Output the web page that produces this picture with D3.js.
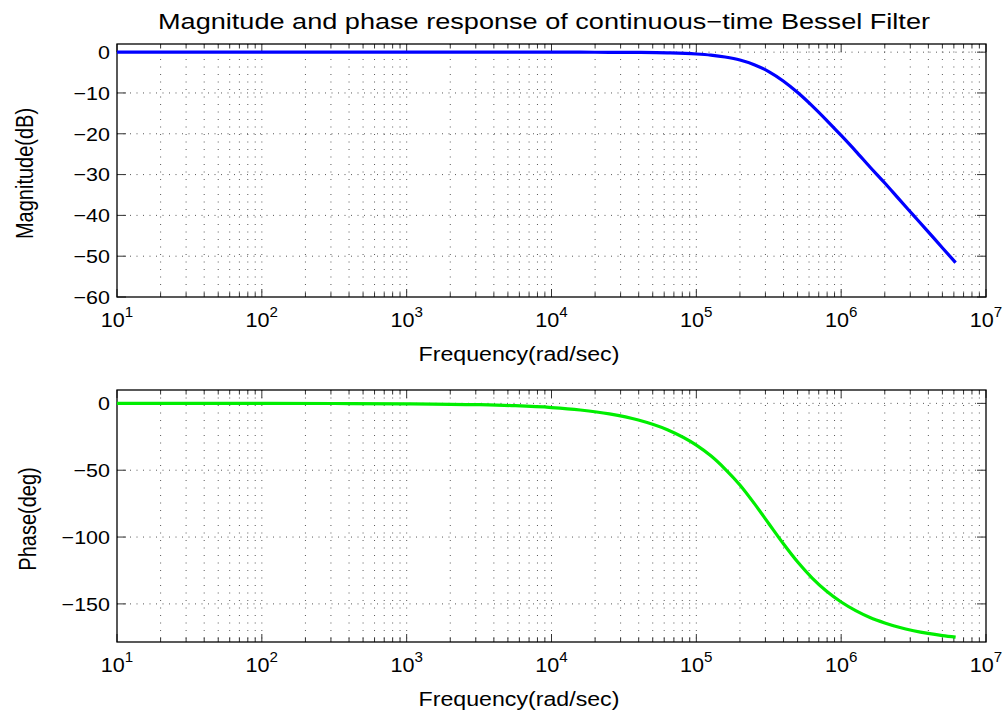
<!DOCTYPE html>
<html>
<head>
<meta charset="utf-8">
<script src="https://cdn.jsdelivr.net/npm/d3@7"></script>
<style>
  html, body { margin: 0; padding: 0; background: #fff; }
  text { font-family: "Liberation Sans", Arial, Helvetica, sans-serif; fill: #000; }
</style>
</head>
<body>
<svg id="chart" width="1005" height="715"></svg>
<script>
// ---- data ----
const freq = [10, 31.6, 100, 316, 1000, 3160, 5620, 10000, 15800, 25100, 39800, 63100,
  100000, 126000, 158000, 200000, 251000, 316000, 398000, 501000, 631000, 794000,
  1000000, 1260000, 1580000, 2000000, 2510000, 3160000, 3980000, 5010000, 6170000];
const magnitudeDb = [0, 0, 0, 0, 0, 0, 0, 0, -0.01, -0.03, -0.07, -0.18,
  -0.45, -0.73, -1.18, -1.91, -3.06, -4.75, -7.05, -9.89,
  -13.15, -16.69, -20.41, -24.24, -28.14, -32.07, -36.03, -40.0, -43.98, -47.98, -51.58];
const phaseDeg = [0, -0.01, -0.03, -0.1, -0.31, -0.99, -1.76, -3.13, -4.96, -7.86, -12.46, -19.74,
  -31.25, -39.23, -49.1, -61.02, -74.83, -89.84, -104.86, -118.71,
  -130.67, -140.57, -148.6, -155.03, -160.16, -164.23, -167.48, -170.05, -172.1, -173.72, -174.9];
const xExponents = [1, 2, 3, 4, 5, 6, 7];
const magTicks = [0, -10, -20, -30, -40, -50, -60];
const phaseTicks = [0, -50, -100, -150];
const titleText = "Magnitude and phase response of continuous\u2212time Bessel Filter";
const xLabelText = "Frequency(rad/sec)";
const magLabelText = "Magnitude(dB)";
const phaseLabelText = "Phase(deg)";

// ---- layout ----
const svg = d3.select("#chart");
const X0 = 117, X1 = 986;
const SX = 1.13; // horizontal glyph stretch seen in the reference

const x = d3.scaleLog().domain([10, 1e7]).range([X0, X1]);

function stretchText(sel, s) {
  sel.each(function () {
    const len = this.getComputedTextLength();
    d3.select(this).attr("textLength", len * s).attr("lengthAdjust", "spacingAndGlyphs");
  });
}

function minus(v) { return v < 0 ? "\u2212" + Math.abs(v) : String(v); }

function panel(cfg) {
  const y = d3.scaleLinear().domain(cfg.domain).range([cfg.y1, cfg.y0]);
  const g = svg.append("g");

  // grid: vertical (major + minor)
  const vVals = [];
  for (let e = 1; e < 7; e++) for (let m = 1; m <= 9; m++) vVals.push(m * Math.pow(10, e));
  const inner = vVals.filter(v => v > 10 && v < 1e7);
  g.append("g").selectAll("line").data(inner).join("line")
    .attr("x1", d => x(d)).attr("x2", d => x(d))
    .attr("y1", cfg.y0).attr("y2", cfg.y1)
    .attr("stroke", "#222").attr("stroke-width", 1)
    .attr("stroke-dasharray", "1,6.5").attr("opacity", 0.75);
  // grid: horizontal (major)
  g.append("g").selectAll("line").data(cfg.ticks.filter(t => y(t) > cfg.y0 + 1 && y(t) < cfg.y1 - 1)).join("line")
    .attr("x1", X0).attr("x2", X1)
    .attr("y1", d => y(d)).attr("y2", d => y(d))
    .attr("stroke", "#222").attr("stroke-width", 1)
    .attr("stroke-dasharray", "1,5.5").attr("opacity", 0.75);

  // x ticks (inside, top and bottom)
  const tickG = g.append("g").attr("stroke", "#333").attr("stroke-width", 1);
  vVals.concat([1e7]).forEach(v => {
    const major = Math.abs(Math.log10(v) - Math.round(Math.log10(v))) < 1e-9;
    const L = major ? 8 : 4.5;
    tickG.append("line").attr("x1", x(v)).attr("x2", x(v)).attr("y1", cfg.y1).attr("y2", cfg.y1 - L);
    tickG.append("line").attr("x1", x(v)).attr("x2", x(v)).attr("y1", cfg.y0).attr("y2", cfg.y0 + L);
  });
  // y ticks (inside, left and right)
  cfg.ticks.forEach(t => {
    tickG.append("line").attr("x1", X0).attr("x2", X0 + 9).attr("y1", y(t)).attr("y2", y(t));
    tickG.append("line").attr("x1", X1).attr("x2", X1 - 9).attr("y1", y(t)).attr("y2", y(t));
  });

  // box
  g.append("rect").attr("x", X0).attr("y", cfg.y0).attr("width", X1 - X0).attr("height", cfg.y1 - cfg.y0)
    .attr("fill", "none").attr("stroke", "#000").attr("stroke-width", 1.3);

  // curve
  const line = d3.line().x((d, i) => x(freq[i])).y(d => y(d)).curve(d3.curveMonotoneX);
  g.append("path").datum(cfg.values).attr("d", line)
    .attr("fill", "none").attr("stroke", cfg.color).attr("stroke-width", 3.2)
    .attr("stroke-linejoin", "round").attr("stroke-linecap", "butt");

  // y tick labels
  const yl = g.append("g").selectAll("text").data(cfg.ticks).join("text")
    .attr("x", 110).attr("y", d => y(d)).attr("dy", "0.36em")
    .attr("text-anchor", "end").attr("font-size", 19)
    .text(d => minus(d));
  stretchText(yl, SX);

  // x tick labels: 10^e
  xExponents.forEach(e => {
    const t = g.append("text").attr("x", x(Math.pow(10, e))).attr("y", cfg.y1 + 30)
      .attr("text-anchor", "middle").attr("font-size", 20);
    t.append("tspan").text("10");
    t.append("tspan").attr("dy", -10).attr("font-size", 14).text(String(e));
    const len = t.node().getComputedTextLength();
    t.attr("textLength", len * 1.08).attr("lengthAdjust", "spacingAndGlyphs");
  });

  // x label
  const xl = g.append("text").attr("x", 519).attr("y", cfg.y1 + 64)
    .attr("text-anchor", "middle").attr("font-size", 20.5).text(xLabelText);
  stretchText(xl, SX);

  // y label
  g.append("text")
    .attr("transform", `translate(${cfg.ylabX},${(cfg.y0 + cfg.y1) / 2 + 3}) rotate(-90) scale(1,1.15)`)
    .attr("text-anchor", "middle").attr("font-size", 20).text(cfg.ylabel);
}

panel({ y0: 44, y1: 297, domain: [-60, 2], ticks: magTicks, values: magnitudeDb,
  color: "#0000ff", ylabel: magLabelText, ylabX: 33 });
panel({ y0: 390, y1: 642, domain: [-178.5, 10], ticks: phaseTicks, values: phaseDeg,
  color: "#00ee00", ylabel: phaseLabelText, ylabX: 36 });

// title
const tt = svg.append("text").attr("x", 544).attr("y", 28.5)
  .attr("text-anchor", "middle").attr("font-size", 22).text(titleText);
tt.attr("textLength", 772).attr("lengthAdjust", "spacingAndGlyphs");
</script>
</body>
</html>
